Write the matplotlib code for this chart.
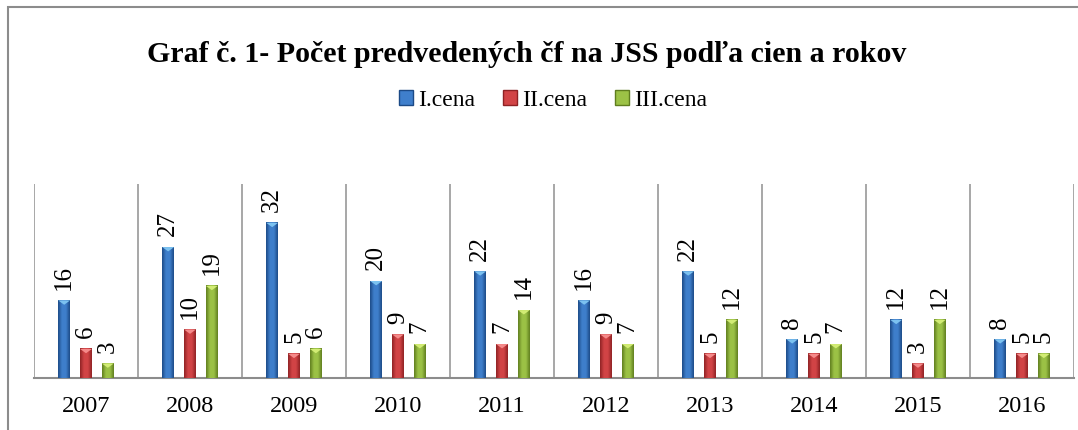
import numpy as np
import matplotlib.pyplot as plt
from matplotlib.colors import LinearSegmentedColormap
from matplotlib.patches import Rectangle, Polygon, Patch

# data
years = ['2007', '2008', '2009', '2010', '2011', '2012', '2013', '2014', '2015', '2016']
series_names = ['I.cena', 'II.cena', 'III.cena']
first_prize = [16, 27, 32, 20, 22, 16, 22, 8, 12, 8]
second_prize = [6, 10, 5, 9, 7, 9, 5, 5, 3, 5]
third_prize = [3, 19, 6, 7, 14, 7, 12, 7, 12, 5]

# colours: (dark edge, light middle, top cap)
palettes = [
    ('#1c4a86', '#3f7fcc', '#7cc2f0'),
    ('#8e2224', '#d24446', '#f58a8a'),
    ('#5f7d1f', '#9cc246', '#d2ec74'),
]

serif = ['Liberation Serif', 'DejaVu Serif']
plt.rcParams['font.family'] = serif

W, H = 1078, 431
fig = plt.figure(figsize=(W / 100, H / 100), dpi=100)
ax = fig.add_axes([34 / W, 52 / H, 1040 / W, (379 - 185) / H])

x = np.arange(len(years))
offsets = [-0.21, 0.0, 0.21]
bar_w = 0.115

for values, off, name, (dark, light, cap) in zip(
        [first_prize, second_prize, third_prize], offsets, series_names, palettes):
    bars = ax.bar(x + off, values, width=bar_w, color=light, label=name, zorder=2)
    cmap = LinearSegmentedColormap.from_list(name, [dark, light, light, dark])
    grad = np.linspace(0, 1, 64).reshape(1, -1)
    for rect, v in zip(bars, values):
        x0 = rect.get_x()
        x1 = x0 + rect.get_width()
        ax.imshow(grad, extent=[x0, x1, 0, v], aspect='auto', cmap=cmap,
                  interpolation='bicubic', zorder=3)
        # small bevel triangle on top of the bar
        ax.add_patch(Polygon([[x0, v], [x1, v], [(x0 + x1) / 2, v - 0.9]],
                             closed=True, color=cap, lw=0, zorder=4))
        ax.text((x0 + x1) / 2, v + 2.4, str(v), family=serif,
                rotation=90, ha='center', va='bottom', fontsize=18, zorder=5)

ax.set_xlim(-0.5, len(years) - 0.5)
ax.set_ylim(0, 40)

# vertical separators between categories
for b in np.arange(-0.5, len(years), 1.0):
    ax.axvline(b, color='#a0a0a0', lw=1.3, zorder=1)

for s in ['top', 'right', 'left']:
    ax.spines[s].set_visible(False)
ax.spines['bottom'].set_color('#8c8c8c')
ax.spines['bottom'].set_linewidth(1.5)
ax.set_yticks([])
ax.set_xticks(x)
ax.set_xticklabels(years, fontsize=17.5, family=serif)
ax.tick_params(axis='x', length=0, pad=12)

fig.text(527 / W, 1 - 55 / H, 'Graf č. 1- Počet predvedených čf na JSS podľa cien a rokov',
         ha='center', va='center', fontsize=21.5, fontweight='bold', family=serif)

handles = [Patch(facecolor=p[1], edgecolor=p[0], lw=1) for p in palettes]
fig.legend(handles, series_names, loc='center', bbox_to_anchor=(553 / W, 1 - 101 / H),
           ncol=3, frameon=False, prop={'family': serif, 'size': 17},
           handlelength=0.6, handleheight=0.6,
           handletextpad=0.2, columnspacing=1.2)

# outer chart frame
fig.patches.append(Rectangle((8 / W, -0.1), 1.2, 1 - 8 / H + 0.1, transform=fig.transFigure,
                             fill=False, edgecolor='#8c8c8c', lw=1.5))

fig.savefig('out.png', dpi=100)
